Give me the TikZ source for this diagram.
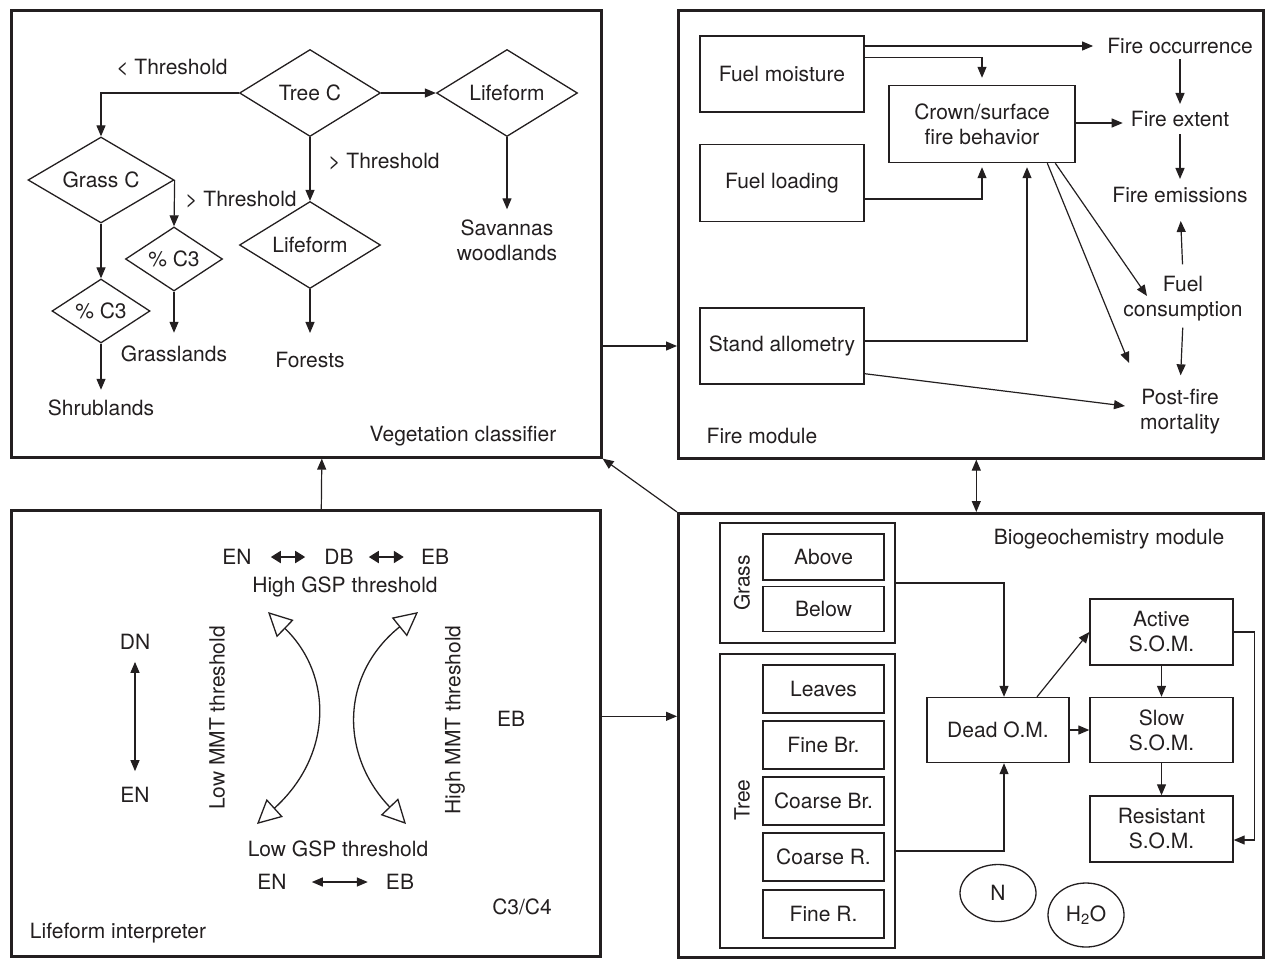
\documentclass[tikz,border=0pt]{standalone}
\usepackage{fontspec}
\setmainfont{TeX Gyre Heros}
\usetikzlibrary{arrows.meta,shapes.geometric,calc}
\definecolor{ink}{RGB}{35,31,32}
\begin{document}
\begin{tikzpicture}[x=1pt,y=-1pt,
  every node/.style={font=\fontsize{21}{25}\selectfont, text=ink},
  panel/.style={draw=ink, line width=2.6pt, inner sep=0pt, anchor=north west},
  box/.style={draw=ink, line width=1.4pt, inner sep=0pt, align=center},
  grp/.style={draw=ink, line width=2pt, inner sep=0pt},
  dia/.style={draw=ink, diamond, aspect=1.6, line width=1.3pt, inner sep=0pt},
  lbl/.style={inner sep=0pt, align=center},
  arr/.style={draw=ink, line width=1.2pt, -{Triangle[length=11pt,width=9pt]}},
  darr/.style={draw=ink, line width=1.2pt, {Triangle[length=11pt,width=9pt]}-{Triangle[length=11pt,width=9pt]}},
  sarr/.style={draw=ink, line width=1.8pt, {Triangle[length=10pt,width=12pt]}-{Triangle[length=10pt,width=12pt]}},
  oarr/.style={draw=ink, line width=1.3pt, {Triangle[open,length=24pt,width=24pt,line width=1.3pt]}-{Triangle[open,length=24pt,width=24pt,line width=1.3pt]}}
]
\useasboundingbox (0,0) rectangle (1265,959);

% ---------- panels ----------
\node[panel, minimum width=590, minimum height=447] (veg) at (10,9) {};
\node[panel, minimum width=585, minimum height=448] (fire) at (677,9) {};
\node[panel, minimum width=589, minimum height=446] (life) at (10,509) {};
\node[panel, minimum width=585, minimum height=444] (bio) at (677,512) {};

\node[lbl] (vegl) at (463,436) {Vegetation classifier};
\node[lbl] (firel) at (762,436) {Fire module};
\node[lbl] (lifel) at (118,933) {Lifeform interpreter};
\node[lbl] (biol) at (1109,539) {Biogeochemistry module};

% ---------- vegetation classifier ----------
\node[dia, minimum width=141, minimum height=87] (treec) at (310,93) {Tree C};
\node[dia, minimum width=141, minimum height=87] (lf1) at (507,93) {Lifeform};
\node[dia, minimum width=146, minimum height=86] (grassc) at (101,180) {Grass C};
\node[dia, minimum width=97, minimum height=64] (c3a) at (174,259) {\% C3};
\node[dia, minimum width=98, minimum height=64] (c3b) at (101,311) {\% C3};
\node[dia, minimum width=141, minimum height=87] (lf2) at (310,245) {Lifeform};

\node[lbl] (tlt) at (172,68) {< Threshold};
\node[lbl] (tgt1) at (384,162) {> Threshold};
\node[lbl] (tgt2) at (241,200) {> Threshold};

\node[lbl] (savl) at (507,240) {\fontsize{21}{23}\selectfont Savannas\\woodlands};
\node[lbl] (forl) at (310,360) {Forests};
\node[lbl] (grl) at (174,354) {Grasslands};
\node[lbl] (shl) at (101,408) {Shrublands};

\draw[arr] (treec.east) -- (lf1.west);
\draw[arr] (treec.west) -| (grassc.north);
\draw[arr] (grassc.east) -- (c3a.north);
\draw[arr] (grassc.south) -- (c3b.north);
\draw[arr] (treec.south) -- (lf2.north);
\draw[arr, shorten >=10pt] (lf1.south) -- (savl.north);
\draw[arr, shorten >=19pt] (lf2.south) -- (forl.north);
\draw[arr, shorten >=13pt] (c3a.south) -- (grl.north);
\draw[arr, shorten >=10pt] (c3b.south) -- (shl.north);

% ---------- fire module ----------
\node[box, minimum width=164, minimum height=76] (fm) at (782,74) {Fuel moisture};
\node[box, minimum width=164, minimum height=77] (fl) at (782,183) {Fuel loading};
\node[box, minimum width=164, minimum height=76] (sa) at (782,346) {Stand allometry};
\node[box, minimum width=186, minimum height=77] (crown) at (982,124) {Crown/surface\\fire behavior};

\node[lbl] (focc) at (1180,46) {Fire occurrence};
\node[lbl] (fext) at (1180,119) {Fire extent};
\node[lbl] (femi) at (1180,195) {Fire emissions};
\node[lbl] (fcons) at (1183,299) {Fuel\\consumption};
\node[lbl] (pfm) at (1180,412) {Post-fire\\mortality};

\draw[arr, shorten >=14pt] (fm.north east |- focc.west) -- (focc.west);
\draw[arr, shorten >=7pt] ($(fm.north east)+(0,22)$) -| (crown.north);
\draw[arr, shorten >=4pt] ($(fl.east)+(0,16)$) -| (crown.south);
\draw[arr, shorten >=4pt] ($(sa.east)+(0,-5)$) -| ($(crown.south)+(45,0)$);
\coordinate (crx) at ($(crown.east)+(0,-1)$);
\draw[arr, shorten >=8pt] (crx) -- (crx -| fext.west);
\draw[arr, shorten <=5pt, shorten >=7pt] (focc.south) -- (fext.north);
\draw[arr, shorten <=7pt, shorten >=8pt] (fext.south) -- (femi.north);
\draw[arr, shorten <=12pt, shorten >=18pt] (fcons.north) -- (femi.south);
\draw[arr, shorten <=6pt, shorten >=14pt] (fcons.south) -- (pfm.north);
\coordinate (tipc) at (1147,296);
\coordinate (tipm) at (1129,363);
\coordinate (tipp) at (1125,406);
\draw[arr] ($(crown.south west)+(167,0)$) -- (tipc);
\draw[arr] ($(crown.south west)+(159,0)$) -- (tipm);
\draw[arr] ($(sa.south east)+(0,-11)$) -- (tipp);

% ---------- lifeform interpreter ----------
\node[lbl] (en1) at (237,557) {EN};
\node[lbl] (db) at (339,557) {DB};
\node[lbl] (eb1) at (435,557) {EB};
\node[lbl] (hgsp) at (345,587) {High GSP threshold};
\node[lbl] (lgsp) at (338,849) {Low GSP threshold};
\node[lbl] (en2) at (272,882) {EN};
\node[lbl] (eb2) at (400,882) {EB};
\node[lbl] (dn) at (135,642) {DN};
\node[lbl] (en3) at (135,795) {EN};
\node[lbl] (eb3) at (511,719) {EB};
\node[lbl] (c34) at (522,907) {C3/C4};
\node[lbl, rotate=90] (lmmt) at (217,718) {Low MMT threshold};
\node[lbl, rotate=90] (hmmt) at (455,720) {High MMT threshold};

\draw[sarr, shorten <=19pt, shorten >=19pt] (en1.east) -- (db.west);
\draw[sarr, shorten <=15pt, shorten >=17pt] (db.east) -- (eb1.west);
\draw[darr, line width=1.5pt, shorten <=25pt, shorten >=18pt] (en2.east) -- (eb2.west);
\draw[darr, shorten <=12pt, shorten >=16pt] (dn.south) -- (en3.north);

\coordinate (lt) at (268,612);
\coordinate (lb) at (257,824);
\coordinate (rt) at (418,612);
\coordinate (rb) at (406,824);
\draw[oarr] (lb) .. controls (333,755) and (333,675) .. (lt);
\draw[oarr] (rb) .. controls (340,755) and (340,675) .. (rt);

% ---------- biogeochemistry ----------
\node[grp, minimum width=175, minimum height=120] (grassbox) at (807.5,583) {};
\node[grp, minimum width=175, minimum height=294] (treebox) at (807.5,801) {};
\node[lbl, rotate=90] (grassl) at (742,583) {Grass};
\node[lbl, rotate=90] (treel) at (742,800) {Tree};

\node[box, minimum width=121, minimum height=46] (above) at (823.5,557) {Above};
\node[box, minimum width=121, minimum height=45] (below) at (823.5,609) {Below};
\node[box, minimum width=121, minimum height=48] (leaves) at (823.5,689) {Leaves};
\node[box, minimum width=121, minimum height=48] (finebr) at (823.5,745) {Fine Br.};
\node[box, minimum width=121, minimum height=48] (coarsebr) at (823.5,801) {Coarse Br.};
\node[box, minimum width=121, minimum height=48] (coarser) at (823.5,857) {Coarse R.};
\node[box, minimum width=121, minimum height=48] (finer) at (823.5,914) {Fine R.};

\node[box, minimum width=142, minimum height=65] (dead) at (998,730) {Dead O.M.};
\node[box, minimum width=143, minimum height=66] (active) at (1161.5,632) {Active\\S.O.M.};
\node[box, minimum width=143, minimum height=65] (slow) at (1161.5,730) {Slow\\S.O.M.};
\node[box, minimum width=143, minimum height=66] (resist) at (1161.5,829) {Resistant\\S.O.M.};

\node[draw=ink, ellipse, line width=1.3pt, minimum width=76, minimum height=57, inner sep=0pt] (nn) at (998,893) {N};
\node[draw=ink, ellipse, line width=1.3pt, minimum width=76, minimum height=64, inner sep=0pt] (h2o) at (1086,915) {H\textsubscript{2}O};

\draw[arr] (grassbox.east) -| ($(dead.north)+(6,0)$);
\coordinate (crs) at ($(coarser.east -| treebox.east)+(0,-6)$);
\draw[arr] (crs) -| ($(dead.south)+(6,0)$);
\draw[arr] ($(dead.north)+(39,0)$) -- (active.west);
\draw[arr] (dead.east) -- (slow.west);
\draw[arr] (active.south) -- (slow.north);
\draw[arr] (slow.south) -- (resist.north);
\draw[arr] (active.east) -- ++(21,0) |- ($(resist.east)+(0,11)$);

% ---------- links between panels ----------
\draw[arr] (sa -| veg.east) -- (sa -| fire.west);
\draw[arr] ($(life.north)+(15.5,0)$) -- ($(veg.south)+(15.5,0)$);
\draw[darr] ($(fire.south)+(5.5,0)$) -- ($(bio.north)+(5.5,0)$);
\draw[arr] (bio.north west) -- (veg.south east);
\coordinate (lbo) at ($(life.east)+(0,-17)$);
\draw[arr] (lbo) -- (lbo -| bio.west);
\end{tikzpicture}
\end{document}
